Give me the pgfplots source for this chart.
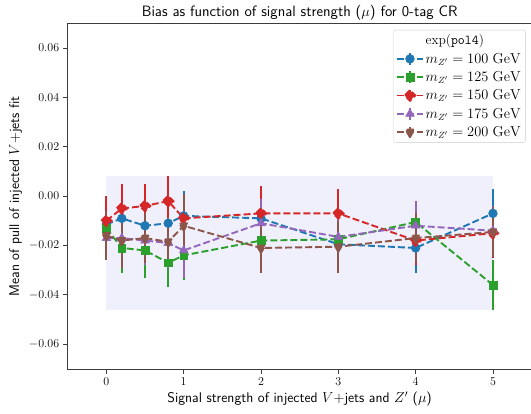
\documentclass[border=0pt]{standalone}
\usepackage{pgfplots}
\pgfplotsset{compat=1.18}
\definecolor{tabblue}{HTML}{1F77B4}
\definecolor{tabgreen}{HTML}{2CA02C}
\definecolor{tabred}{HTML}{D62728}
\definecolor{tabpurple}{HTML}{9467BD}
\definecolor{tabbrown}{HTML}{8C564B}
\definecolor{spanfill}{RGB}{240,240,253}
\definecolor{spine}{RGB}{60,60,60}

\pgfplotstableread{
x    y       e
0    -0.0115 0.010
0.2  -0.009  0.010
0.5  -0.012  0.010
0.8  -0.011  0.010
1    -0.008  0.010
2    -0.009  0.010
3    -0.0195 0.010
4    -0.021  0.010
5    -0.007  0.010
}\tblue
\pgfplotstableread{
x    y       e
0    -0.013  0.010
0.2  -0.021  0.010
0.5  -0.022  0.011
0.8  -0.027  0.010
1    -0.024  0.010
2    -0.018  0.010
3    -0.0175 0.010
4    -0.0105 0.0085
5    -0.036  0.010
}\tgreen
\pgfplotstableread{
x    y       e
0    -0.010  0.010
0.2  -0.005  0.010
0.5  -0.004  0.009
0.8  -0.002  0.010
1    -0.009  0.010
2    -0.007  0.011
3    -0.007  0.010
4    -0.018  0.010
5    -0.015  0.010
}\tred
\pgfplotstableread{
x    y       e
0    -0.017  0.009
0.2  -0.017  0.010
0.5  -0.018  0.010
0.8  -0.019  0.010
1    -0.022  0.011
2    -0.011  0.010
3    -0.0165 0.010
4    -0.012  0.010
5    -0.014  0.010
}\tpurple
\pgfplotstableread{
x    y       e
0    -0.016  0.010
0.2  -0.018  0.011
0.5  -0.017  0.010
0.8  -0.0185 0.010
1    -0.012  0.013
2    -0.021  0.010
3    -0.0205 0.0105
4    -0.017  0.010
5    -0.0145 0.010
}\tbrown

\pgfplotsset{
  series/.style={#1, line width=1.9pt, dash pattern=on 7pt off 3pt,
    mark options={solid, fill=#1, draw=#1, line width=0.5pt},
    error bars/y dir=both, error bars/y explicit, error bars/error mark=none,
    error bars/error bar style={line width=2.2pt, solid, #1}},
}

\begin{document}
\begin{tikzpicture}
\begin{axis}[
  scale only axis, width=464pt, height=345.7pt,
  xmin=-0.5, xmax=5.5, ymin=-0.07, ymax=0.07,
  xtick={0,1,2,3,4,5},
  ytick={-0.06,-0.04,-0.02,0,0.02,0.04,0.06},
  scaled y ticks=false,
  yticklabel style={/pgf/number format/fixed, /pgf/number format/fixed zerofill, /pgf/number format/precision=2},
  tick label style={font=\fontsize{13}{15}\selectfont},
  tick pos=left, tick align=outside, major tick length=5pt,
  tick style={spine, line width=0.8pt},
  axis line style={spine, line width=0.8pt},
  title={Bias as function of signal strength ($\mu$) for 0-tag CR},
  title style={font=\fontsize{15}{17}\sffamily, yshift=-6.5pt},
  xlabel={Signal strength of injected $V+$jets and $Z'$ ($\mu$)},
  ylabel={Mean of pull of injected $V+$jets fit},
  label style={font=\fontsize{14}{16}\sffamily},
  legend cell align=left,
  legend style={at={(0.987,0.981)}, anchor=north east, draw=black!20,
    rounded corners=2pt, font=\fontsize{13.5}{15}\selectfont,
    row sep=3pt, inner sep=2.5pt},
  legend image code/.code={
    \draw[#1, solid, line width=2.2pt] (0.45cm,-0.2cm) -- (0.45cm,0.2cm);
    \draw[mark repeat=2, mark phase=2, #1] plot coordinates {(0cm,0cm) (0.45cm,0cm) (0.9cm,0cm)};
  },
]
\addplot[fill=spanfill, draw=none, forget plot] coordinates {(0,-0.046) (5,-0.046) (5,0.008) (0,0.008)} -- cycle;

\addlegendimage{empty legend}
\addlegendentry{exp(\texttt{pol4})}

\addplot[series=tabblue, mark=*, mark size=4.4pt] table[x=x, y=y, y error=e] {\tblue};
\addlegendentry{$m_{Z'} = 100~\mathrm{GeV}$}
\addplot[series=tabgreen, mark=square*, mark size=3.9pt] table[x=x, y=y, y error=e] {\tgreen};
\addlegendentry{$m_{Z'} = 125~\mathrm{GeV}$}
\addplot[series=tabred, mark=square*, mark size=3.7pt, mark options={rotate=45}] table[x=x, y=y, y error=e] {\tred};
\addlegendentry{$m_{Z'} = 150~\mathrm{GeV}$}
\addplot[series=tabpurple, mark=triangle*, mark size=5pt] table[x=x, y=y, y error=e] {\tpurple};
\addlegendentry{$m_{Z'} = 175~\mathrm{GeV}$}
\addplot[series=tabbrown, mark=triangle*, mark size=5pt, mark options={rotate=180}] table[x=x, y=y, y error=e] {\tbrown};
\addlegendentry{$m_{Z'} = 200~\mathrm{GeV}$}
\end{axis}
\pgfresetboundingbox
\path ([xshift=-67.7pt,yshift=-45pt]current axis.south west) rectangle ([xshift=-0.6pt,yshift=23.3pt]current axis.north east);
\end{tikzpicture}
\end{document}
